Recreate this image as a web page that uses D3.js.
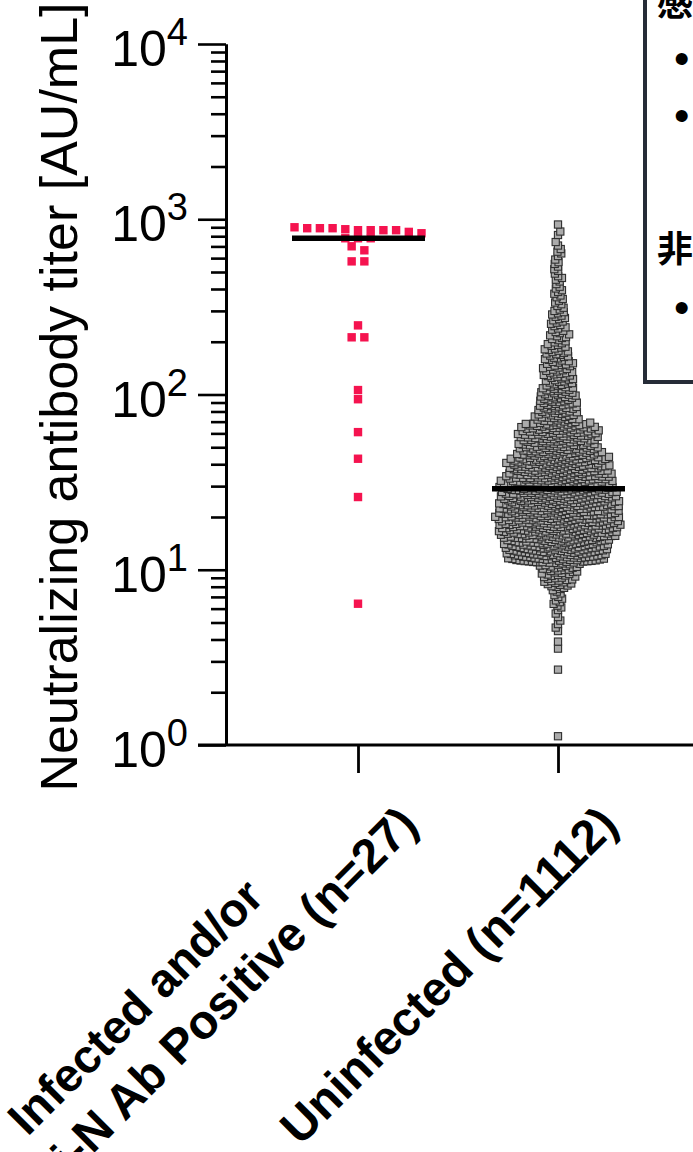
<!DOCTYPE html>
<html><head><meta charset="utf-8">
<script src="https://cdn.jsdelivr.net/npm/d3@7"></script>
<style>body{margin:0;background:#fff;overflow:hidden}svg{display:block}</style>
</head><body>
<svg id="chart" width="693" height="1152"></svg>
<script>
// ---------- DATA ----------
const categories = ["Infected and/or\nAnti-N Ab Positive (n=27)", "Uninfected (n=1112)"];
const yTickValues = [1, 10, 100, 1000, 10000];
const yTickExponents = ["0", "1", "2", "3", "4"];
const legendHeaders = ["感染者", "非感染者"];
// Infected / anti-N positive: individual titers [AU/mL]
const infectedValues = [866, 889, 889, 889, 832, 847, 866, 900, 877, 866, 866,
  779, 779, 779, 701, 665, 575, 575, 248, 212, 212, 106, 94, 61, 43, 26, 6.4];
// Uninfected: number of participants per log10 bin (bin width 0.02 log10 units,
// first bin centred at log10 = 0.01), read from the swarm
const grayBinCounts = [
  0,0,1,0,0,0,0,0,0,0, 0,0,0,0,0,0,0,0,0,0,
  0,1,0,0,0,0,0,1,0,1, 0,0,1,1,1,1,1,1,1,2,
  2,2,2,2,3,5,6,6,7,7, 8,8,20,20,21,21,21,21,21,23,
  24,24,25,24,24,25,24,24,25,24, 24,24,23,24,23,22,21,21,20,21,
  20,20,17,17,16,16,15,15,16,15, 15,14,9,9,8,8,8,8,7,8,
  7,7,6,6,6,6,6,5,6,5, 5,5,5,4,4,3,4,3,3,3,
  3,3,3,3,2,2,2,2,2,2, 2,1,2,2,1,2,1,2,1,1,
  2,1,1,1,0,1,1,0,1,0
];
const grayBinStart = 0.01, grayBinStep = 0.02;

// ---------- LAYOUT ----------
const svg = d3.select("#chart");
const FONT = "'Liberation Sans', Arial, Helvetica, sans-serif";
const axisX = 226, yTop = 44, yBottom = 745;
const y = d3.scaleLog().domain([1, 10000]).range([yBottom, yTop]);
const x = d3.scalePoint().domain(categories).range([358, 558]);

// expand gray bins into individual values (spread across each bin)
const grayValues = [];
grayBinCounts.forEach((n, i) => {
  for (let k = 0; k < n; k++) {
    const lg = grayBinStart + (i - 0.5 + (k + 0.5) / n) * grayBinStep;
    grayValues.push(Math.pow(10, lg));
  }
});

// beeswarm (dodge) layout
function dodge(values, d) {
  const pts = values.map(v => ({ v, py: y(v), px: 0 }));
  const order = pts.slice().sort((a, b) => b.py - a.py);
  const placed = [];
  let flip = 1;
  for (const p of order) {
    const neigh = placed.filter(q => Math.abs(q.py - p.py) < d);
    const cands = [0];
    for (const q of neigh) {
      const dx = Math.sqrt(d * d - (q.py - p.py) ** 2);
      cands.push(q.px - dx, q.px + dx);
    }
    cands.sort((a, b) => (Math.abs(a) - Math.abs(b)) || (flip * (a - b)));
    for (const c of cands) {
      if (neigh.every(q => (q.px - c) ** 2 + (q.py - p.py) ** 2 >= d * d - 1e-6)) { p.px = c; break; }
    }
    if (p.px !== 0) flip = -flip;
    placed.push(p);
  }
  return pts;
}
// row layout (points within rowH pixels share a centred row)
function rows(values, rowH, step) {
  const pts = values.map(v => ({ v, py: y(v), px: 0 })).sort((a, b) => a.py - b.py);
  let i = 0;
  while (i < pts.length) {
    let j = i;
    while (j < pts.length && pts[j].py - pts[i].py < rowH) j++;
    const n = j - i;
    for (let k = 0; k < n; k++) pts[i + k].px = (k - (n - 1) / 2) * step;
    i = j;
  }
  return pts;
}

// ---------- POINTS ----------
const grayPts = dodge(grayValues, 4.2);
svg.append("g").selectAll("rect").data(grayPts).join("rect")
  .attr("x", d => x(categories[1]) + d.px - 3.6)
  .attr("y", d => d.py - 3.6)
  .attr("width", 7.2).attr("height", 7.2)
  .attr("fill", "#ababab").attr("stroke", "#2e2e2e").attr("stroke-width", 1.1);

const redPts = rows(infectedValues, 8, 12.7);
svg.append("g").selectAll("rect").data(redPts).join("rect")
  .attr("x", d => x(categories[0]) + d.px - 4.2)
  .attr("y", d => d.py - 4.2)
  .attr("width", 8.4).attr("height", 8.4)
  .attr("fill", "#f5134f");

// medians
[[categories[0], infectedValues], [categories[1], grayValues]].forEach(([c, vals]) => {
  const m = d3.median(vals);
  svg.append("line")
    .attr("x1", x(c) - 66).attr("x2", x(c) + 67)
    .attr("y1", y(m)).attr("y2", y(m))
    .attr("stroke", "#000").attr("stroke-width", 5.5);
});

// ---------- AXES ----------
const minorTicks = [];
for (let e = 0; e < 4; e++) for (let k = 2; k <= 9; k++) minorTicks.push(k * Math.pow(10, e));

const yMinor = svg.append("g").attr("transform", `translate(${axisX},0)`)
  .call(d3.axisLeft(y).tickValues(minorTicks).tickSize(15).tickSizeOuter(0).tickFormat(""));
const yMajor = svg.append("g").attr("transform", `translate(${axisX},0)`)
  .call(d3.axisLeft(y).tickValues(yTickValues).tickSize(28).tickSizeOuter(0).tickFormat(""));
[yMinor, yMajor].forEach(g => {
  g.selectAll("line").attr("stroke", "#000").attr("stroke-width", 2.6);
  g.select(".domain").attr("stroke", "#000").attr("stroke-width", 3);
});

// tick labels 10^n
yTickValues.forEach((v, i) => {
  const t = svg.append("text")
    .attr("x", 188).attr("y", y(v) + 22)
    .attr("text-anchor", "end")
    .attr("font-family", FONT).attr("font-size", 50).attr("fill", "#000");
  t.append("tspan").text("10");
  t.append("tspan").attr("font-size", 38).attr("dy", -21).text(yTickExponents[i]);
});

// x axis
svg.append("line").attr("x1", 198).attr("x2", 700).attr("y1", yBottom).attr("y2", yBottom)
  .attr("stroke", "#000").attr("stroke-width", 3);
const xAx = svg.append("g").attr("transform", `translate(0,${yBottom})`)
  .call(d3.axisBottom(x).tickSize(28).tickSizeOuter(0).tickFormat(""));
xAx.select(".domain").remove();
xAx.selectAll("line").attr("stroke", "#000").attr("stroke-width", 2.8);

// y title
svg.append("text")
  .attr("transform", `translate(77,397) rotate(-90)`)
  .attr("text-anchor", "middle")
  .attr("font-family", FONT).attr("font-size", 52).attr("fill", "#000")
  .text("Neutralizing antibody titer [AU/mL]");

// x labels (last line ends near the tick; earlier lines centred further back)
categories.forEach(c => {
  const lines = c.split("\n");
  const g = svg.append("g").attr("transform", `translate(${x(c) + 62},827) rotate(-45)`);
  const last = g.append("text")
    .attr("text-anchor", "end").attr("x", 0).attr("y", 0)
    .attr("font-family", FONT).attr("font-size", 48).attr("font-weight", "bold").attr("fill", "#000")
    .text(lines[lines.length - 1]);
  const L = last.node().getComputedTextLength();
  lines.slice(0, -1).forEach((ln, k) => {
    g.append("text")
      .attr("text-anchor", "middle").attr("x", -L / 2 - 42).attr("y", -58 * (lines.length - 1 - k))
      .attr("font-family", FONT).attr("font-size", 47).attr("font-weight", "bold").attr("fill", "#000")
      .text(ln);
  });
});

// ---------- LEGEND (partially outside the frame) ----------
const lg = svg.append("g");
lg.append("rect").attr("x", 645).attr("y", -20).attr("width", 120).attr("height", 402)
  .attr("fill", "#fff").attr("stroke", "#262c37").attr("stroke-width", 4);
const CJK = "'Noto Sans CJK JP', 'Noto Sans CJK SC', sans-serif";
lg.append("text").attr("x", 657).attr("y", 16).attr("font-family", CJK).attr("font-weight", "bold")
  .attr("font-size", 36).text(legendHeaders[0]);
lg.append("text").attr("x", 657).attr("y", 262).attr("font-family", CJK).attr("font-weight", "bold")
  .attr("font-size", 36).text(legendHeaders[1]);
[74, 131, 323].forEach(by => {
  lg.append("text").attr("x", 674).attr("y", by).attr("font-family", FONT)
    .attr("font-size", 44).text("•");
});
</script>
</body></html>
